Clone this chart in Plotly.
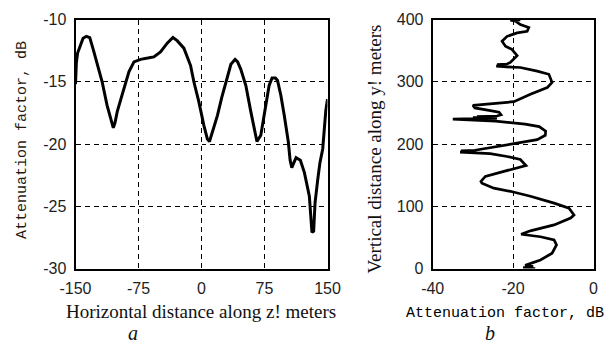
import plotly.graph_objects as go

# ---- panel a: attenuation vs horizontal distance ----
a_dist = [-150, -149, -147.5, -145, -141, -137, -133, -128.5, -124, -118.3, -112.4, -107, -105,
          -103, -100.3, -96, -92.4, -86.4, -80.4, -72.5, -64, -56.7, -48.8, -40.8, -34, -29, -21,
          -13, -9.1, -3.2, 2.8, 7, 9.5, 13, 19, 24, 29, 35, 40, 43, 46.8, 52.8, 58.7, 63, 66,
          70.6, 74.6, 80.5, 84, 88, 90.5, 94.5, 98.5, 103.3, 105.5, 107.5, 110, 112.6, 117.7,
          122.5, 128.4, 131.5, 133.5, 135.2, 138.3, 141, 144.3, 146.3, 148, 150]
a_att = [-15.2, -13.5, -12.7, -12.2, -11.5, -11.35, -11.45, -12.5, -13.7, -15.0, -16.9, -18.2, -18.7,
         -18.3, -17.4, -16.4, -15.5, -14.2, -13.4, -13.2, -13.1, -13.0, -12.6, -11.9, -11.45, -11.7, -12.3,
         -13.7, -15.0, -16.6, -18.5, -19.6, -19.8, -19.0, -17.7, -16.3, -15.0, -13.6, -13.2, -13.4, -14.0,
         -15.3, -17.4, -19.0, -19.8, -19.3, -17.7, -15.3, -14.7, -14.7, -14.9, -16.1, -17.7, -19.8, -21.3,
         -21.9, -21.5, -21.1, -21.3, -22.3, -24.2, -27.1, -27.0, -24.7, -22.9, -21.5, -20.4, -18.5, -17.3,
         -16.4]

# ---- panel b: attenuation vs vertical distance ----
b_att = [-14.5, -17.5, -15, -17, -13.2, -10.3, -9.2, -9.8, -13.2, -17.4, -18, -15.7, -9.8, -5.7,
         -4.85, -6.1, -9.8, -15.7, -20.7, -24.8, -27.75, -28, -26.9, -22.3, -17.4, -16.8, -18.2,
         -21.5, -25.7, -29.4, -33.2, -29.5, -33, -29.5, -28.5, -24, -19.8, -14, -12, -11.9, -13.5,
         -17, -19.8, -24.4, -35, -30, -24, -30, -24, -29, -24, -23, -23.5, -26, -29.5, -30, -27,
         -23, -19.8, -15.7, -11.5, -10.3, -11.1, -14, -18.2, -20.3, -24.2, -22.4, -24, -21.5,
         -20.7, -19, -20.3, -21.9, -22.75, -21.5, -19, -16.5, -16.1, -18.2, -19.4, -20.7, -18.2,
         -20]
b_height = [0, 1.5, 3, 5, 13.7, 24.5, 37.9, 46, 51, 54, 55, 60.5, 70, 81,
            86, 97, 105, 116, 124, 129, 137, 140, 148, 156, 164, 165.5, 175,
            180, 184.6, 186, 187, 188, 189, 190, 191, 196, 200.5, 207, 214, 220.6, 228,
            232, 234, 236.8, 240, 241, 241.5, 242.5, 243, 244, 245, 247, 251, 254, 258, 262, 264,
            265.5, 268, 280, 290.6, 299, 312, 317, 322.9, 323.4, 325, 326, 327.5, 328.5,
            331, 342, 352, 357, 365, 373, 378.5, 381, 387, 392, 397.5, 399, 399.5,
            400]

a_xticks = [-150, -75, 0, 75, 150]
a_xtick_text = ["-150", "-75", "0", "75", "150"]
a_yticks = [-30, -25, -20, -15, -10]
a_ytick_text = ["-30", "-25", "-20", "-15", "-10"]
b_xticks = [-40, -20, 0]
b_xtick_text = ["-40", "-20", "0"]
b_yticks = [0, 100, 200, 300, 400]
b_ytick_text = ["0", "100", "200", "300", "400"]

W, H = 614, 347


def px(x):
    return x / W


def py(y):
    return 1 - y / H


fig = go.Figure()
fig.add_trace(go.Scatter(x=a_dist, y=a_att, mode="lines", xaxis="x", yaxis="y",
                         line=dict(color="black", width=3), showlegend=False))
fig.add_trace(go.Scatter(x=b_att, y=b_height, mode="lines", xaxis="x2", yaxis="y2",
                         line=dict(color="black", width=2.7), showlegend=False))

tickfont = dict(family="Liberation Sans, Arial", size=16, color="#1e1e1e")
common = dict(showline=True, linecolor="black", linewidth=2, mirror=True,
              showgrid=True, gridcolor="black", gridwidth=1, griddash="5px,4px",
              zeroline=False, ticks="", tickfont=tickfont, ticklabelstandoff=4,
              automargin=False)

ybot, ytop = py(268.5), py(19.5)
fig.update_layout(
    template="none",
    width=W, height=H,
    margin=dict(l=0, r=0, t=0, b=0, autoexpand=False),
    paper_bgcolor="white", plot_bgcolor="white",
    xaxis=dict(domain=[px(75.5), px(327.5)], range=[-150, 150], anchor="y",
               tickvals=a_xticks, ticktext=a_xtick_text, **common),
    yaxis=dict(domain=[ybot, ytop], range=[-30, -10], anchor="x",
               tickvals=a_yticks, ticktext=a_ytick_text, **common),
    xaxis2=dict(domain=[px(432.7), px(593.5)], range=[-40, 0], anchor="y2",
                tickvals=b_xticks, ticktext=b_xtick_text, **common),
    yaxis2=dict(domain=[ybot, ytop], range=[0, 400], anchor="x2",
                tickvals=b_yticks, ticktext=b_ytick_text, **common),
)

serif = "Liberation Serif, Times New Roman, serif"
mono = "Liberation Mono, Courier New, monospace"
ann = [
    dict(text="Horizontal distance along z! meters", x=px(201), y=py(311),
         font=dict(family=serif, size=19, color="#111")),
    dict(text="Attenuation factor, dB", x=px(504.5), y=py(313),
         font=dict(family=mono, size=15, color="#000")),
    dict(text="Attenuation factor, dB", x=px(22), y=py(140), textangle=-90,
         font=dict(family=mono, size=15, color="#1f1a10")),
    dict(text="Vertical distance along y! meters", x=px(374), y=py(149.5), textangle=-90,
         font=dict(family=serif, size=19, color="#111")),
    dict(text="<i>a</i>", x=px(133), y=py(346), yanchor="bottom",
         font=dict(family=serif, size=20, color="#111")),
    dict(text="<i>b</i>", x=px(490), y=py(346), yanchor="bottom",
         font=dict(family=serif, size=20, color="#111")),
]
for a in ann:
    a.update(xref="paper", yref="paper", showarrow=False, xanchor="center")
    a.setdefault("yanchor", "middle")
fig.update_layout(annotations=ann)

fig.write_html(
    "out.html",
    config={"displayModeBar": False, "staticPlot": True},
    post_script="document.body.style.margin='0';document.body.style.overflow='hidden';",
)
